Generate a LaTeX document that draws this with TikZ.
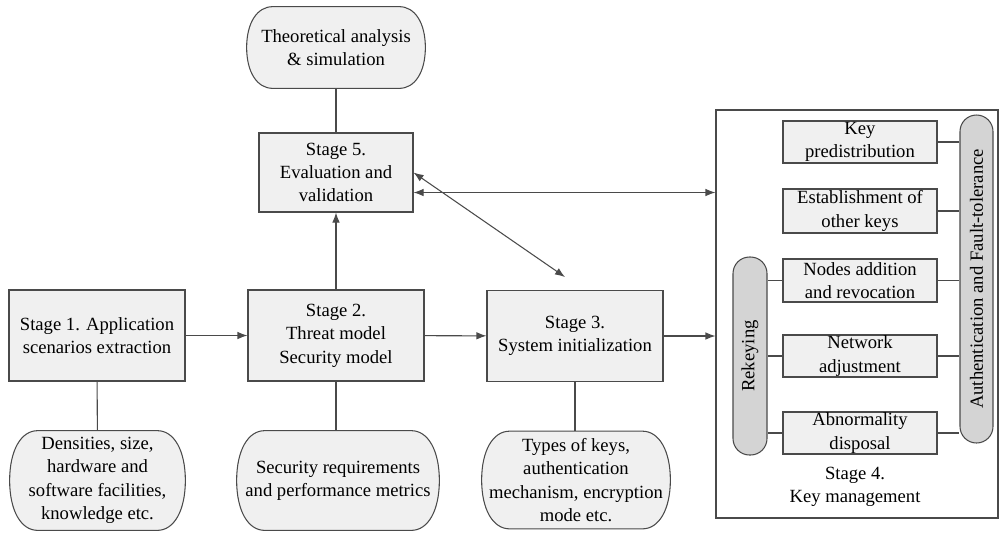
\documentclass[tikz,border=0pt]{standalone}
\usepackage{fontspec}
\setmainfont{Liberation Serif}
\usetikzlibrary{arrows.meta,positioning,calc,backgrounds}
\definecolor{boxfill}{HTML}{F0F0F0}
\definecolor{pillfill}{HTML}{D4D4D4}
\definecolor{edge}{HTML}{4A4A4A}
\newcommand\capbox[2]{%
  \draw[draw=edge,line width=0.6pt,fill=boxfill]
    ([xshift=#2]#1.north west) -- ([xshift=-#2]#1.north east)
    .. controls ([xshift=-0.4*#2]#1.north east) and ($(#1.east)!0.6!(#1.north east)$) .. (#1.east)
    .. controls ($(#1.east)!0.6!(#1.south east)$) and ([xshift=-0.4*#2]#1.south east) .. ([xshift=-#2]#1.south east)
    -- ([xshift=#2]#1.south west)
    .. controls ([xshift=0.4*#2]#1.south west) and ($(#1.west)!0.6!(#1.south west)$) .. (#1.west)
    .. controls ($(#1.west)!0.6!(#1.north west)$) and ([xshift=0.4*#2]#1.north west) .. ([xshift=#2]#1.north west)
    -- cycle;}
\begin{document}
\begin{tikzpicture}[x=0.2mm,y=-0.2mm,
  font=\fontsize{10.6pt}{13.3pt}\selectfont,
  every node/.style={inner sep=0pt,align=center,text=black},
  boxn/.style={draw=edge,line width=0.6pt,fill=boxfill,rectangle},
  termn/.style={rectangle},
  pill/.style={draw=edge,line width=0.6pt,fill=pillfill,rectangle,rounded corners=3.3mm},
  conn/.style={draw=edge,line width=0.6pt},
  arr/.style={conn,-{Latex[length=2mm,width=1.5mm]}},
  darr/.style={conn,{Latex[length=2mm,width=1.5mm]}-{Latex[length=2mm,width=1.5mm]}}]
\useasboundingbox (0,0) rectangle (1000,534);

% Stage 4 container
\node[draw=edge,line width=0.6pt,fill=white,minimum width=56.4mm,minimum height=81.6mm] (s4) at (857,314) {};

% top terminator and stage 5
\node[termn,minimum width=35.6mm,minimum height=16.2mm] (theo) at (336,47.5) {Theoretical analysis\\\& simulation};
\node[boxn,minimum width=30.8mm,minimum height=15.8mm] (s5) at (336,172.5) {Stage 5.\\Evaluation and\\validation};

% main stages
\node[boxn,minimum width=35.2mm,minimum height=18.2mm] (s1) at (97,335.5) {Stage 1. Application\\scenarios extraction};
\node[boxn,minimum width=35.2mm,minimum height=18.2mm] (s2) at (336,335.5) {Stage 2.\\Threat model\\Security model};
\node[boxn,minimum width=35.2mm,minimum height=18.2mm] (s3) at (575,336) {Stage 3.\\System initialization};

% bottom terminators
\node[termn,minimum width=35mm,minimum height=19.8mm] (d1) at (97.5,480.5) {Densities, size,\\hardware and\\software facilities,\\knowledge etc.};
\node[termn,minimum width=40.4mm,minimum height=19.8mm] (d2) at (338,480.5) {Security requirements\\and performance metrics};
\node[termn,minimum width=37.6mm,minimum height=19.4mm] (d3) at (576,480) {Types of keys,\\authentication\\mechanism, encryption\\mode etc.};

\begin{scope}[on background layer]
  \capbox{theo}{5.2mm}
  \capbox{d1}{5.6mm}
  \capbox{d2}{5.6mm}
  \capbox{d3}{5.6mm}
\end{scope}

% stage 4 inner boxes
\node[boxn,minimum width=30.8mm,minimum height=8.4mm] (kp) at (860,142) {Key\\predistribution};
\node[boxn,minimum width=30.8mm,minimum height=8.8mm] (est) at (860,211) {Establishment of\\other keys};
\node[boxn,minimum width=30.8mm,minimum height=8.6mm] (nod) at (860,280.5) {Nodes addition\\and revocation};
\node[boxn,minimum width=30.8mm,minimum height=8.4mm] (net) at (860,356) {Network\\adjustment};
\node[boxn,minimum width=30.8mm,minimum height=8.4mm] (abn) at (860,433) {Abnormality\\disposal};
\node[pill,minimum height=39.6mm,minimum width=6.8mm] (rek) at (750,356) {\rotatebox{90}{Rekeying}};
\node[pill,minimum height=65.6mm,minimum width=6.6mm] (auth) at (976.5,279) {\rotatebox{90}{Authentication and Fault-tolerance}};
\node (s4lab) at (855,487) {Stage 4.\\Key management};

% connectors
\draw[conn] (theo) -- (s5);
\draw[arr] (s2) -- (s5);
\draw[arr] (s1) -- (s2);
\draw[arr] (s2) -- (s3);
\draw[arr] (s3.east) -- (s3.east -| s4.west);
\draw[conn] (s1) -- (d1);
\draw[conn] (s2) -- (s2 |- d2.north);
\draw[conn] (s3) -- (s3 |- d3.north);
\coordinate (s5a) at ([yshift=-4mm]s5.east);
\coordinate (s5b) at (s5.east);
\draw[darr] (s5a) -- (s5a -| s4.west);
\coordinate (diagend) at (565,277);
\draw[darr] (s5b) -- (diagend);

\draw[conn] (kp.east) -- (kp.east -| auth.west);
\draw[conn] (est.east) -- (est.east -| auth.west);
\draw[conn] (nod.east) -- (nod.east -| auth.west);
\draw[conn] (net.east) -- (net.east -| auth.west);
\draw[conn] (abn.east) -- (abn.east -| auth.west);
\draw[conn] (nod.west) -- (nod.west -| rek.east);
\draw[conn] (net.west) -- (net.west -| rek.east);
\draw[conn] (abn.west) -- (abn.west -| rek.east);
\end{tikzpicture}
\end{document}
